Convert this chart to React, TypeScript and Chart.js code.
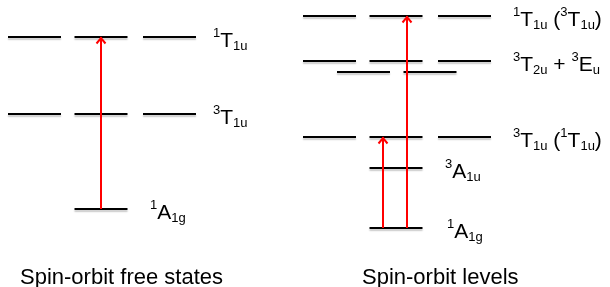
import React, { useEffect, useRef } from "react";
import { Chart, registerables } from "chart.js";

Chart.register(...registerables);

// ---------- data ----------
const panelTitles = ["Spin-orbit free states", "Spin-orbit levels"];

// Spin-orbit free states (energies on a common arbitrary scale)
const freeLevelNames = ["{1}T[1u]", "{3}T[1u]", "{1}A[1g]"];
const freeLevelEnergies = [191, 114, 19];
const freeTransitions = [[19, 191]];

// Spin-orbit levels
const soLevelNames = [
  "{1}T[1u] ({3}T[1u])",
  "{3}T[2u] + {3}E[u]",
  "{3}T[1u] ({1}T[1u])",
  "{3}A[1u]",
  "{1}A[1g]",
];
const soLevelEnergies = [212, 167, 91, 60, 0];
const soSplitEnergy = 156; // second component of 3T2u + 3Eu
const soTransitions = [
  [0, 91],
  [0, 212],
];

const yMin = -59;
const yMax = 228;

// ---------- layout ----------
const W = 610;
const H = 287;
const FONT = '"Liberation Sans", Arial, Helvetica, sans-serif';
const HALF = 26.5;
const FREE_COLS = [34.5, 101, 169.5];
const SO_COLS = [329.5, 396, 464.5];
const SO_SPLIT_COLS = [363.5, 430];
const FREE_LEVEL_COLS = [[0, 1, 2], [0, 1, 2], [1]];
const SO_LEVEL_COLS = [[0, 1, 2], [0, 1, 2], [0, 1, 2], [1], [1]];
const FREE_LABEL_X = [213, 213, 150];
const SO_LABEL_X = [513, 513, 513, 445, 447];
const FREE_ARROW_X = [101];
const SO_ARROW_X = [383, 407];
const TITLE_X = [20, 362];
const TITLE_BASELINE = 284;
const MAIN_SIZE = 21;
const SMALL_SIZE = 13;
const LABEL_DY = 10;
const RED = "#ff0000";

function drawRich(ctx: CanvasRenderingContext2D, text: string, x: number, baseline: number) {
  const re = /\{([^}]*)\}|\[([^\]]*)\]|([^{[]+)/g;
  let m: RegExpExecArray | null;
  let cx = x;
  while ((m = re.exec(text))) {
    let s: string;
    let y = baseline;
    if (m[1] !== undefined) {
      s = m[1];
      ctx.font = `${SMALL_SIZE}px ${FONT}`;
      y = baseline - 10;
    } else if (m[2] !== undefined) {
      s = m[2];
      ctx.font = `${SMALL_SIZE}px ${FONT}`;
      y = baseline + 3;
    } else {
      s = m[3];
      ctx.font = `${MAIN_SIZE}px ${FONT}`;
    }
    ctx.fillText(s, cx, y);
    cx += ctx.measureText(s).width;
  }
}

const annotationPlugin = {
  id: "levelAnnotations",
  beforeDatasetDraw(chart: any, args: any) {
    const ds = chart.data.datasets[args.index];
    if (ds && ds.isLevel) {
      const ctx = chart.ctx;
      ctx.save();
      ctx.shadowColor = "rgba(0,0,0,0.22)";
      ctx.shadowOffsetY = 2;
      ctx.shadowOffsetX = 0;
      ctx.shadowBlur = 1.5;
    }
  },
  afterDatasetDraw(chart: any, args: any) {
    const ds = chart.data.datasets[args.index];
    if (ds && ds.isLevel) chart.ctx.restore();
  },
  afterDatasetsDraw(chart: any) {
    const ctx: CanvasRenderingContext2D = chart.ctx;
    const xs = chart.scales.x;
    const ys = chart.scales.y;
    const heads: [number, number][] = [];
    freeTransitions.forEach((t, i) => heads.push([FREE_ARROW_X[i], t[1]]));
    soTransitions.forEach((t, i) => heads.push([SO_ARROW_X[i], t[1]]));
    ctx.save();
    ctx.strokeStyle = RED;
    ctx.lineWidth = 2;
    ctx.lineJoin = "miter";
    heads.forEach(([xv, yv]) => {
      const px = xs.getPixelForValue(xv);
      const py = ys.getPixelForValue(yv);
      ctx.beginPath();
      ctx.moveTo(px - 4.5, py + 6.5);
      ctx.lineTo(px, py + 1);
      ctx.lineTo(px + 4.5, py + 6.5);
      ctx.stroke();
    });
    ctx.restore();
  },
  afterDraw(chart: any) {
    const ctx: CanvasRenderingContext2D = chart.ctx;
    const ys = chart.scales.y;
    const xs = chart.scales.x;
    ctx.save();
    ctx.fillStyle = "#000";
    ctx.textBaseline = "alphabetic";
    ctx.textAlign = "left";
    freeLevelNames.forEach((n, i) => {
      drawRich(ctx, n, xs.getPixelForValue(FREE_LABEL_X[i]), ys.getPixelForValue(freeLevelEnergies[i]) + LABEL_DY);
    });
    soLevelNames.forEach((n, i) => {
      drawRich(ctx, n, xs.getPixelForValue(SO_LABEL_X[i]), ys.getPixelForValue(soLevelEnergies[i]) + LABEL_DY);
    });
    ctx.font = `22px ${FONT}`;
    panelTitles.forEach((t, i) => ctx.fillText(t, TITLE_X[i], TITLE_BASELINE));
    ctx.restore();
  },
};

function segment(cx: number, e: number) {
  return {
    data: [
      { x: cx - HALF, y: e },
      { x: cx + HALF, y: e },
    ],
    borderColor: "#000",
    borderWidth: 2,
    pointRadius: 0,
    showLine: true,
    order: 2,
    isLevel: true,
  };
}

function arrow(x: number, t: number[]) {
  return {
    data: [
      { x, y: t[0] },
      { x, y: t[1] },
    ],
    borderColor: RED,
    borderWidth: 2,
    pointRadius: 0,
    showLine: true,
    order: 1,
  };
}

export default function App() {
  const ref = useRef<HTMLCanvasElement | null>(null);
  useEffect(() => {
    if (!ref.current) return;
    const datasets: any[] = [];
    freeLevelEnergies.forEach((e, i) => FREE_LEVEL_COLS[i].forEach((c) => datasets.push(segment(FREE_COLS[c], e))));
    soLevelEnergies.forEach((e, i) => SO_LEVEL_COLS[i].forEach((c) => datasets.push(segment(SO_COLS[c], e))));
    SO_SPLIT_COLS.forEach((c) => datasets.push(segment(c, soSplitEnergy)));
    freeTransitions.forEach((t, i) => datasets.push(arrow(FREE_ARROW_X[i], t)));
    soTransitions.forEach((t, i) => datasets.push(arrow(SO_ARROW_X[i], t)));

    const chart = new Chart(ref.current, {
      type: "scatter",
      data: { datasets },
      options: {
        animation: false,
        responsive: false,
        events: [],
        layout: { padding: 0 },
        plugins: { legend: { display: false }, tooltip: { enabled: false } },
        scales: {
          x: { type: "linear", min: 0, max: W, display: false },
          y: { type: "linear", min: yMin, max: yMax, display: false },
        },
      },
      plugins: [annotationPlugin],
    } as any);
    return () => chart.destroy();
  }, []);
  return (
    <div style={{ position: "absolute", left: 0, top: 0, width: W, height: H, background: "#fff" }}>
      <canvas ref={ref} width={W} height={H} style={{ width: W, height: H, display: "block" }} />
    </div>
  );
}
